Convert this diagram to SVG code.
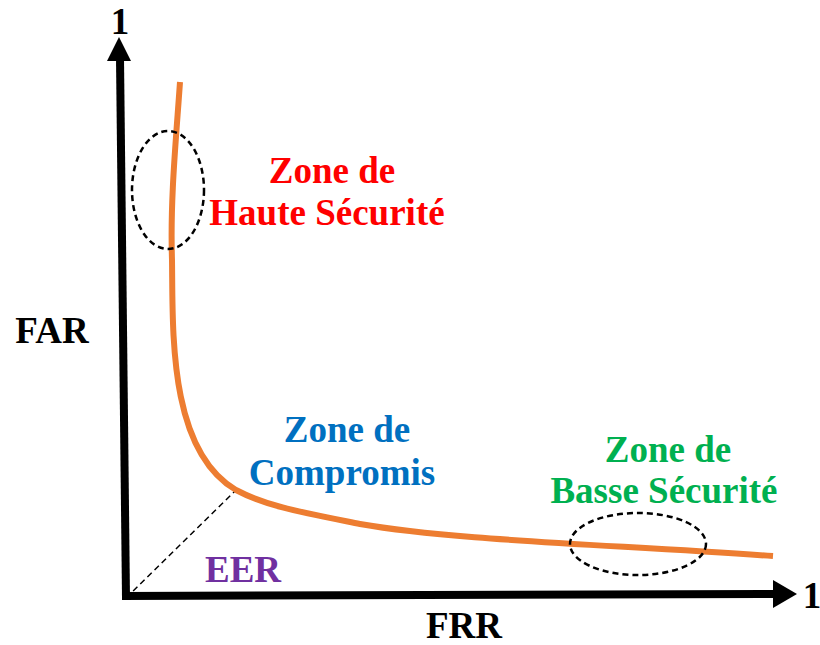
<svg xmlns="http://www.w3.org/2000/svg" width="820" height="645" viewBox="0 0 820 645">
  <style>
    .lbl { font-family: "Liberation Serif", "Times New Roman", serif; font-weight: bold; font-size: 37px; text-anchor: middle; }
    .axis { stroke: #000; stroke-width: 8; fill: none; }
    .dash { stroke: #000; fill: none; stroke-dasharray: 6 4; }
  </style>
  <rect width="820" height="645" fill="#fff"/>
  <g id="axes">
    <path class="axis" d="M126 598 L120 58"/>
    <polygon points="119,37 107,61 131,61" fill="#000"/>
    <path class="axis" d="M122 596 L776 594"/>
    <polygon points="797,594 773,580 773,608" fill="#000"/>
    <text class="lbl" x="120" y="34">1</text>
    <text class="lbl" x="812" y="608">1</text>
    <text class="lbl" x="52" y="343">FAR</text>
    <text class="lbl" x="464" y="638">FRR</text>
  </g>
  <g id="connectors">
    <path class="dash" stroke-width="1.5" d="M126 598 L236 490"/>
  </g>
  <g id="curve">
    <path d="M180 82 C176 140 170 200 172 260 C173 330 168 450 236 490 C266 506 300 512 360 524 C450 540 600 544 773 556" fill="none" stroke="#ED7D31" stroke-width="6"/>
  </g>
  <g id="zone-haute">
    <ellipse class="dash" stroke-width="2.5" cx="168" cy="190" rx="36" ry="59"/>
    <text class="lbl" x="332" y="183" fill="#FF0000">Zone de</text>
    <text class="lbl" x="327" y="225" fill="#FF0000">Haute Sécurité</text>
  </g>
  <g id="zone-compromis">
    <text class="lbl" x="347" y="442" fill="#0070C0">Zone de</text>
    <text class="lbl" x="342" y="485" fill="#0070C0">Compromis</text>
  </g>
  <g id="zone-basse">
    <ellipse class="dash" stroke-width="2.5" cx="638" cy="544" rx="68" ry="31"/>
    <text class="lbl" x="668" y="462" fill="#00B050">Zone de</text>
    <text class="lbl" x="664" y="503" fill="#00B050">Basse Sécurité</text>
  </g>
  <g id="eer">
    <text class="lbl" x="243" y="582" fill="#7030A0">EER</text>
  </g>
</svg>
